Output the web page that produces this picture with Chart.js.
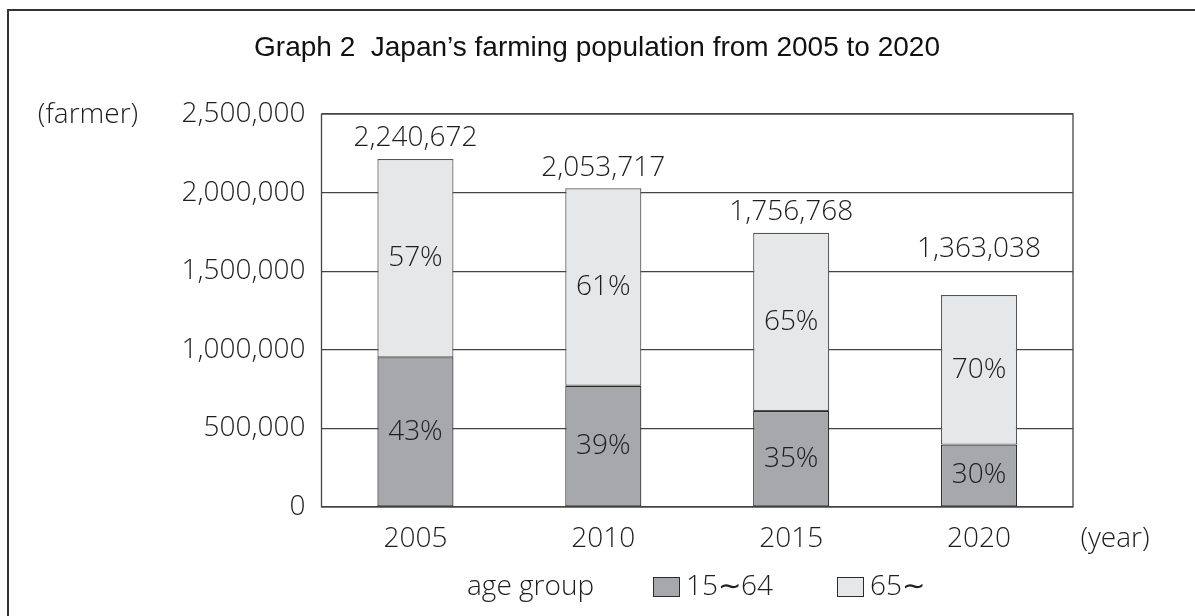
<!DOCTYPE html>
<html>
<head>
<meta charset="utf-8">
<script src="https://cdn.jsdelivr.net/npm/chart.js@4/dist/chart.umd.min.js"></script>
<style>
  html, body { margin: 0; padding: 0; background: #fff; }
  #wrap { width: 1195px; height: 616px; position: relative; }
</style>
</head>
<body>
<div id="wrap"><canvas id="myChart" width="1195" height="616"></canvas></div>
<script>
// data (bar heights as drawn, totals as printed)
var years = ['2005', '2010', '2015', '2020'];
var totals = [2240672, 2053717, 1756768, 1363038];
var young = [952000, 771000, 611000, 397000];      // 15~64
var old = [1262000, 1257000, 1134000, 951000];     // 65~
var youngPct = ['43%', '39%', '35%', '30%'];
var oldPct = ['57%', '61%', '65%', '70%'];
var yTicks = [0, 500000, 1000000, 1500000, 2000000, 2500000];

// how far the total sits above each bar (2020 is lifted clear of the grid line)
var totalGap = [21, 20, 21, 46];

var fontFam = "'Open Sans', 'Noto Sans', sans-serif";
var tickFont = "300 28px " + fontFam;
var textCol = '#1e1e1e';
var darkGrey = '#a7a8ab';
var lightGrey = '#e6e7e9';
var lineCol = '#2b2b2b';

var labelsPlugin = {
  id: 'labels',
  beforeDatasetsDraw(chart) {
    var c = chart.ctx, a = chart.chartArea;
    c.save();
    c.strokeStyle = '#444';
    c.lineWidth = 1.3;
    c.strokeRect(a.left, a.top, a.right - a.left, a.bottom - a.top);
    c.restore();
  },
  afterDraw(chart) {
    var c = chart.ctx;
    c.save();
    // outer frame
    c.strokeStyle = '#333';
    c.lineWidth = 2;
    c.beginPath();
    c.moveTo(8, 700); c.lineTo(8, 10); c.lineTo(1300, 10);
    c.stroke();

    c.fillStyle = '#111';
    c.textBaseline = 'middle';
    c.textAlign = 'center';
    c.font = "28px 'Liberation Sans', Arial, sans-serif";
    c.fillText('Graph 2  Japan\u2019s farming population from 2005 to 2020', 597, 48);

    c.font = tickFont;
    c.fillStyle = textCol;
    c.fillText('(farmer)', 88, 115);
    c.fillText('(year)', 1115, 539);

    var m0 = chart.getDatasetMeta(0), m1 = chart.getDatasetMeta(1);
    m0.data.forEach(function (bar, i) {
      var top = m1.data[i];
      c.fillText(youngPct[i], bar.x, (bar.y + bar.base) / 2);
      c.fillText(oldPct[i], top.x, (top.y + top.base) / 2);
      c.fillText(totals[i].toLocaleString('en-US'), top.x, top.y - totalGap[i]);
    });

    // legend
    var ly = 587;
    c.textAlign = 'left';
    c.fillText('age group', 467, ly);
    c.lineWidth = 1;
    c.strokeStyle = lineCol;
    c.fillStyle = darkGrey;
    c.fillRect(653, ly - 10, 27, 20);
    c.strokeRect(653.5, ly - 9.5, 26, 19);
    c.fillStyle = lightGrey;
    c.fillRect(837, ly - 10, 27, 20);
    c.strokeRect(837.5, ly - 9.5, 26, 19);
    c.fillStyle = textCol;
    c.fillText('15\u223c64', 686, ly);
    c.fillText('65\u223c', 870, ly);
    c.restore();
  }
};

var ctx = document.getElementById('myChart').getContext('2d');
var myChart = new Chart(ctx, {
  type: 'bar',
  data: {
    labels: years,
    datasets: [{
      label: '15\u223c64',
      data: young,
      backgroundColor: darkGrey,
      borderColor: lineCol,
      borderWidth: 1.2,
      borderSkipped: false
    }, {
      label: '65\u223c',
      data: old,
      backgroundColor: lightGrey,
      borderColor: '#555',
      borderWidth: 1.2,
      borderSkipped: false
    }]
  },
  options: {
    responsive: false,
    animation: false,
    layout: { padding: { top: 114, right: 122, bottom: 0, left: 0 } },
    plugins: { legend: { display: false }, tooltip: { enabled: false } },
    datasets: { bar: { categoryPercentage: 1, barPercentage: 0.405 } },
    scales: {
      x: {
        stacked: true,
        grid: { display: false, drawTicks: false },
        border: { display: false },
        ticks: { color: textCol, font: { family: fontFam, size: 28, weight: '300' }, padding: 15 },
        afterFit(scale) { scale.height = 109; }
      },
      y: {
        stacked: true,
        min: 0,
        max: 2500000,
        afterBuildTicks(scale) { scale.ticks = yTicks.map(function (v) { return { value: v }; }); },
        grid: { color: '#444', lineWidth: 1.3, drawTicks: false },
        border: { display: false },
        ticks: {
          color: textCol,
          font: { family: fontFam, size: 28, weight: '300' },
          padding: 16,
          callback: function (v) { return v.toLocaleString('en-US'); }
        },
        afterFit(scale) { scale.width = 321.5; }
      }
    }
  },
  plugins: [labelsPlugin]
});
</script>
</body>
</html>
